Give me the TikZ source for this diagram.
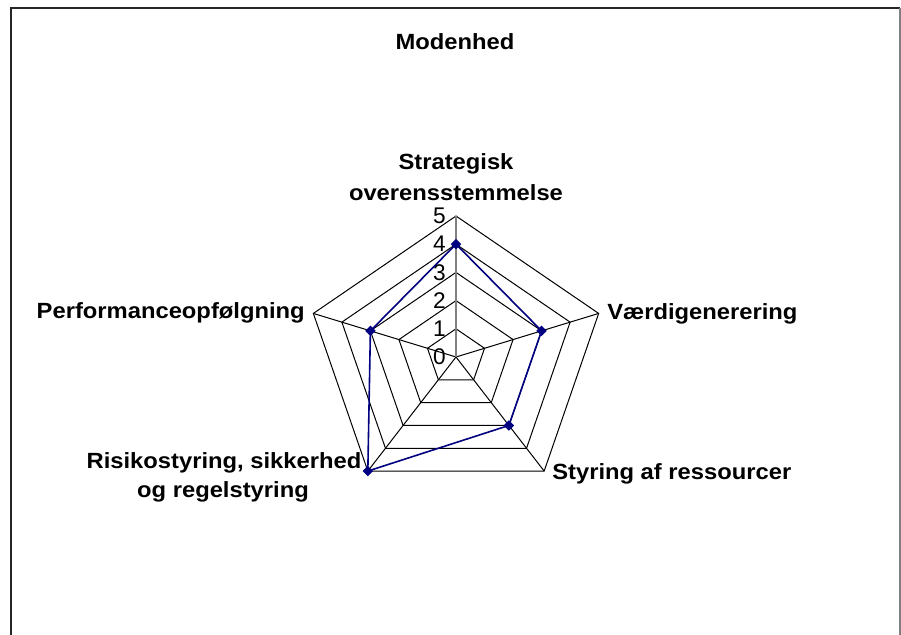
\documentclass[tikz,border=0pt]{standalone}
\usepackage{fontspec}
\setmainfont{Liberation Sans}
\usetikzlibrary{shapes.geometric}
\definecolor{navyser}{RGB}{0,0,128}
\begin{document}
\begin{tikzpicture}[x=0.75pt,y=-0.75pt,
  lbl/.style={font=\fontsize{16.5}{18}\selectfont\bfseries, xscale=1.08, inner sep=0pt},
  num/.style={font=\fontsize{17}{19}\selectfont, xscale=1.0, inner sep=0pt, anchor=east},
  gridline/.style={black, line width=0.75pt},
  vaxis/.style={gray, line width=0.9pt},
  series/.style={navyser, line width=1.2pt},
  mk/.style={diamond, fill=navyser, draw=none, inner sep=0pt, minimum size=8pt}]
\useasboundingbox (0,0) rectangle (901,635);
\fill[white] (0,0) rectangle (901,635);
% frame
\draw[black!85, line width=1.5pt] (11,636) -- (11,8) -- (900,8);
\draw[gray, line width=1.5pt] (900,8) -- (900,636);
% title
\node[lbl, anchor=base] (title) at (455,50) {Modenhed};
% grid
\coordinate (c) at (456,357);
\foreach \k in {0,...,4} \foreach \l in {1,...,5}
  \coordinate (v\k-\l) at ({456+150*\l/5*cos(90-72*\k)},{357-141*\l/5*sin(90-72*\k)});
\foreach \l in {1,...,5}
  \draw[gridline] (v0-\l) -- (v1-\l) -- (v2-\l) -- (v3-\l) -- (v4-\l) -- cycle;
\foreach \k in {1,...,4} \draw[gridline] (c) -- (v\k-5);
\draw[vaxis] (c) -- (v0-5);
% axis numbers
\foreach \l in {0,...,5}
  \node[num] (n\l) at (446,{357-141*\l/5}) {\l};
% series
\foreach \k/\v in {0/4,1/3,2/3,3/5,4/3}
  \coordinate (p\k) at ({456+150*\v/5*cos(90-72*\k)},{357-141*\v/5*sin(90-72*\k)});
\draw[series] (p0) -- (p1) -- (p2) -- (p3) -- (p4) -- cycle;
\foreach \k in {0,...,4} \node[mk] (d\k) at (p\k) {};
% category labels
\node[lbl, anchor=base] (s1) at (456,170) {Strategisk};
\node[lbl, anchor=base] (s2) at (456,200) {overensstemmelse};
\node[lbl, anchor=base west] (vg) at (607,319) {Værdigenerering};
\node[lbl, anchor=base west] (sr) at (552,479) {Styring af ressourcer};
\node[lbl, anchor=base] (r1) at (224,468) {Risikostyring, sikkerhed};
\node[lbl, anchor=base] (r2) at (223,497) {og regelstyring};
\node[lbl, anchor=base east] (po) at (305,318) {Performanceopfølgning};
\end{tikzpicture}
\end{document}
